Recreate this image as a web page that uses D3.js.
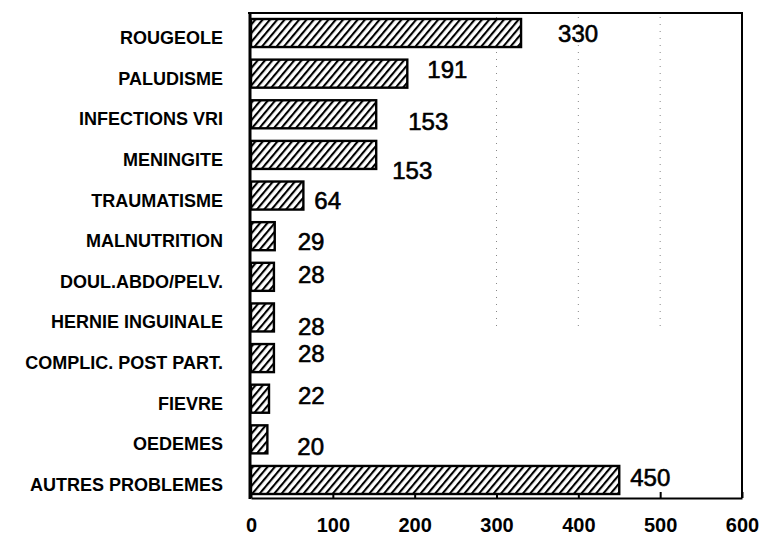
<!DOCTYPE html>
<html>
<head>
<meta charset="utf-8">
<script src="https://cdn.jsdelivr.net/npm/d3@7"></script>
<style>
  html, body { margin: 0; padding: 0; background: #fff; }
  svg { display: block; }
  text { font-family: "Liberation Sans", Arial, Helvetica, sans-serif; fill: #000; }
</style>
</head>
<body>
<svg id="chart" width="781" height="535"></svg>
<script>
// Consultations by health problem
const categories = [
  "ROUGEOLE", "PALUDISME", "INFECTIONS VRI", "MENINGITE", "TRAUMATISME",
  "MALNUTRITION", "DOUL.ABDO/PELV.", "HERNIE INGUINALE", "COMPLIC. POST PART.",
  "FIEVRE", "OEDEMES", "AUTRES PROBLEMES"
];
const values = [330, 191, 153, 153, 64, 29, 28, 28, 28, 22, 20, 450];
const tickValues = [0, 100, 200, 300, 400, 500, 600];
const gridValues = [300, 400, 500];

// Hand placement of each value label: [dx from bar end, dy from bar centre]
const labelNudge = [
  [37, 0], [20, -4], [32, 7], [16, 15], [11, 5], [23, 5],
  [24, -2], [24, 9], [24, -5], [29, -3], [30, 7], [11, -3]
];

const svg = d3.select("#chart");
const plotLeft = 251, plotRight = 742, plotTop = 13, plotBottom = 498;

const x = d3.scaleLinear().domain([0, 600]).range([plotLeft, plotRight]);
const y = d3.scaleBand().domain(categories).range([19, 494]).paddingInner(0.31).paddingOuter(0);

// diagonal hatch fill for bars
const defs = svg.append("defs");
const pat = defs.append("pattern")
  .attr("id", "hatch")
  .attr("patternUnits", "userSpaceOnUse")
  .attr("width", 5.6).attr("height", 10)
  .attr("patternTransform", "rotate(40)");
pat.append("rect").attr("width", 5.6).attr("height", 10).attr("fill", "#fff");
pat.append("line")
  .attr("x1", 1).attr("y1", 0).attr("x2", 1).attr("y2", 10)
  .attr("stroke", "#000").attr("stroke-width", 2.2);

// faint dotted grid lines
svg.append("g").selectAll("line").data(gridValues).join("line")
  .attr("x1", d => x(d)).attr("x2", d => x(d))
  .attr("y1", plotTop + 4).attr("y2", 330)
  .attr("stroke", "#888").attr("stroke-width", 1)
  .attr("stroke-dasharray", "1 6");

// frame: top and right edges
svg.append("path")
  .attr("d", `M${plotLeft - 3},${plotTop}H${plotRight}V${plotBottom}`)
  .attr("fill", "none").attr("stroke", "#000").attr("stroke-width", 2);

// bottom axis with inward ticks
const xAxis = d3.axisBottom(x).tickValues(tickValues).tickFormat(d3.format("d"))
  .tickSizeInner(-6).tickSizeOuter(0).tickPadding(20);
const gx = svg.append("g").attr("transform", `translate(0,${plotBottom})`).call(xAxis);
gx.select(".domain").attr("stroke", "#000").attr("stroke-width", 2);
gx.selectAll(".tick line").attr("stroke", "#000").attr("stroke-width", 2);
gx.selectAll(".tick text")
  .style("font-family", "'Liberation Sans', Arial, Helvetica, sans-serif")
  .style("font-size", "20px").style("font-weight", "bold").attr("fill", "#000");

// left axis line
svg.append("line")
  .attr("x1", plotLeft - 1).attr("x2", plotLeft - 1)
  .attr("y1", plotTop - 1).attr("y2", plotBottom + 1)
  .attr("stroke", "#000").attr("stroke-width", 3);

const rows = categories.map((c, i) => ({ cat: c, value: values[i], nudge: labelNudge[i] }));

// bars
svg.append("g").selectAll("rect").data(rows).join("rect")
  .attr("x", x(0))
  .attr("y", d => y(d.cat))
  .attr("width", d => x(d.value) - x(0))
  .attr("height", y.bandwidth())
  .attr("fill", "url(#hatch)")
  .attr("stroke", "#000").attr("stroke-width", 2.4);

// category labels
svg.append("g").selectAll("text").data(rows).join("text")
  .attr("x", plotLeft - 28)
  .attr("y", d => y(d.cat) + y.bandwidth() / 2 + 11)
  .attr("text-anchor", "end")
  .style("font-size", "18px").style("font-weight", "bold")
  .text(d => d.cat);

// value labels
svg.append("g").selectAll("text").data(rows).join("text")
  .attr("x", d => x(d.value) + d.nudge[0])
  .attr("y", d => y(d.cat) + y.bandwidth() / 2 + d.nudge[1])
  .attr("dy", "0.36em")
  .style("font-size", "24px")
  .attr("stroke", "#000").attr("stroke-width", 0.6)
  .text(d => d.value);
</script>
</body>
</html>
